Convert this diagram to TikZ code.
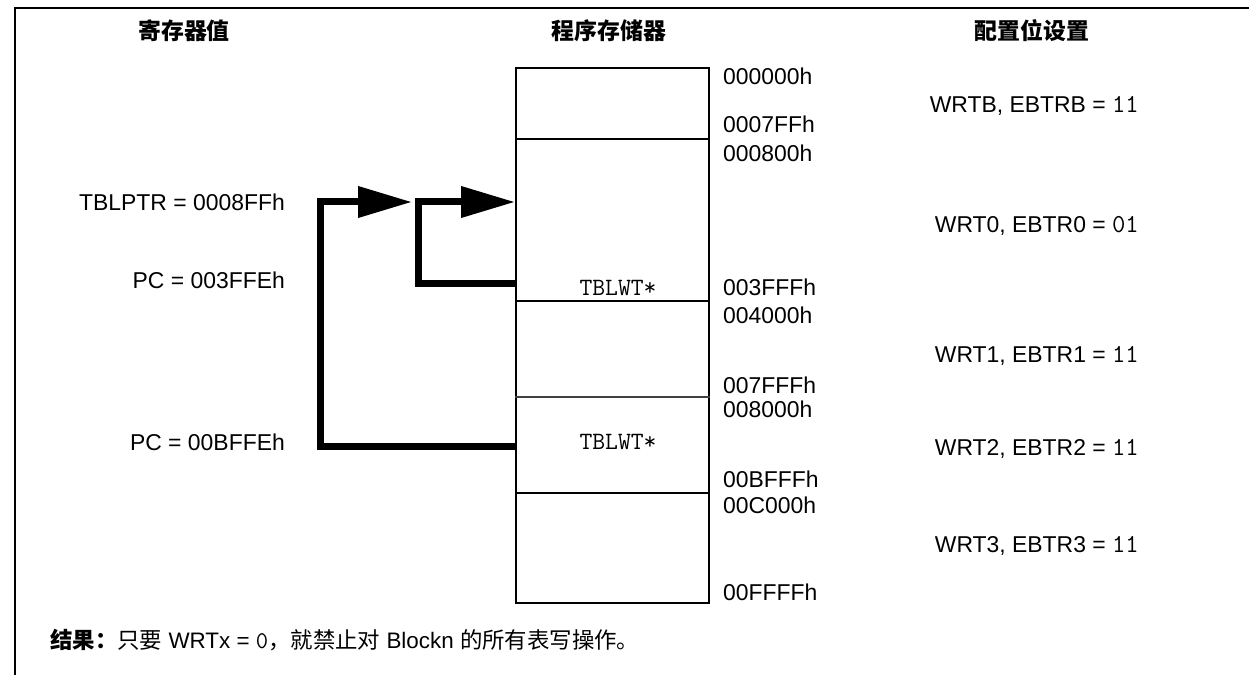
\documentclass[tikz,border=0pt]{standalone}
\usepackage{fontspec}
\setmainfont{Liberation Sans}
\newfontfamily\cjk{Noto Sans CJK SC}
\usetikzlibrary{arrows.meta}
\begin{document}
\begin{tikzpicture}[x=1bp,y=-1bp,
  lbl/.style={inner sep=0pt, font=\fontsize{23}{27}\selectfont},
  hdr/.style={inner sep=0pt, font=\fontsize{23}{27}\selectfont\cjk\bfseries},
  code/.style={inner sep=0pt, font=\fontsize{25}{29}\selectfont\ttfamily},
  bus/.style={line width=7bp, line join=miter, -{Triangle[length=54bp,width=30bp]}},
  memline/.style={line width=2bp},
  thinmem/.style={line width=1.3bp, draw=black!75},
  frameline/.style={line width=2.3bp}]
\newcommand\mono[1]{{\fontsize{26}{30}\selectfont\ttfamily #1}}

\path[use as bounding box] (0,0) rectangle (1249,675);
\draw[frameline] (15,676) -- (15,8) -- (1250,8);

% headers
\node[hdr, anchor=base] (h1) at (184,40) {寄存器值};
\node[hdr, anchor=base] (h2) at (609,40) {程序存储器};
\node[hdr, anchor=base] (h3) at (1032,40) {配置位设置};

% memory
\node[draw, memline, minimum width=193bp, minimum height=535bp, inner sep=0pt, anchor=north west] (mem) at (515,67) {};
\draw[memline] (mem.west |- 0,139) -- (mem.east |- 0,139);
\draw[memline] (mem.west |- 0,301) -- (mem.east |- 0,301);
\draw[thinmem] (mem.west |- 0,397) -- (mem.east |- 0,397);
\draw[memline] (mem.west |- 0,493) -- (mem.east |- 0,493);

\node[code, anchor=base] (tw1) at (618,295) {TBLWT*};
\node[code, anchor=base] (tw2) at (618,449) {TBLWT*};

% addresses
\node[lbl, anchor=base west] (a1) at (723,85) {000000h};
\node[lbl, anchor=base west] (a2) at (723,133) {0007FFh};
\node[lbl, anchor=base west] (a3) at (723,162) {000800h};
\node[lbl, anchor=base west] (a4) at (723,295) {003FFFh};
\node[lbl, anchor=base west] (a5) at (723,323) {004000h};
\node[lbl, anchor=base west] (a6) at (723,393) {007FFFh};
\node[lbl, anchor=base west] (a7) at (723,417) {008000h};
\node[lbl, anchor=base west] (a8) at (723,487) {00BFFFh};
\node[lbl, anchor=base west] (a9) at (723,513) {00C000h};
\node[lbl, anchor=base west] (a10) at (723,600) {00FFFFh};

% register values
\node[lbl, anchor=base east] (r1) at (285,211) {TBLPTR = 0008FFh};
\node[lbl, anchor=base east] (r2) at (285,288) {PC = 003FFEh};
\node[lbl, anchor=base east] (r3) at (285,450) {PC = 00BFFEh};

% config bits
\node[lbl, anchor=base east] (c1) at (1139,113) {WRTB, EBTRB = \mono{11}};
\node[lbl, anchor=base east] (c2) at (1139,233) {WRT0, EBTR0 = \mono{01}};
\node[lbl, anchor=base east] (c3) at (1139,362) {WRT1, EBTR1 = \mono{11}};
\node[lbl, anchor=base east] (c4) at (1139,455) {WRT2, EBTR2 = \mono{11}};
\node[lbl, anchor=base east] (c5) at (1139,552) {WRT3, EBTR3 = \mono{11}};

% connectors
\coordinate (o1) at (320,446);
\coordinate (o2) at (320,202);
\coordinate (tipA) at (412,202);
\coordinate (i1) at (418,283);
\coordinate (i2) at (418,202);
\draw[bus] (mem.west |- o1) -- (o1) -- (o2) -- (tipA);
\draw[bus] (mem.west |- i1) -- (i1) -- (i2) -- (mem.west |- i2);

% result
\node[anchor=base west, inner sep=0pt, font=\fontsize{22.5}{26}\selectfont] (res) at (50,648)
  {{\cjk\bfseries 结果：}{\cjk 只要} WRTx = {\fontsize{24}{28}\selectfont\ttfamily 0}{\cjk ，就禁止对} Blockn {\cjk 的所有表写操作。}};
\end{tikzpicture}
\end{document}
